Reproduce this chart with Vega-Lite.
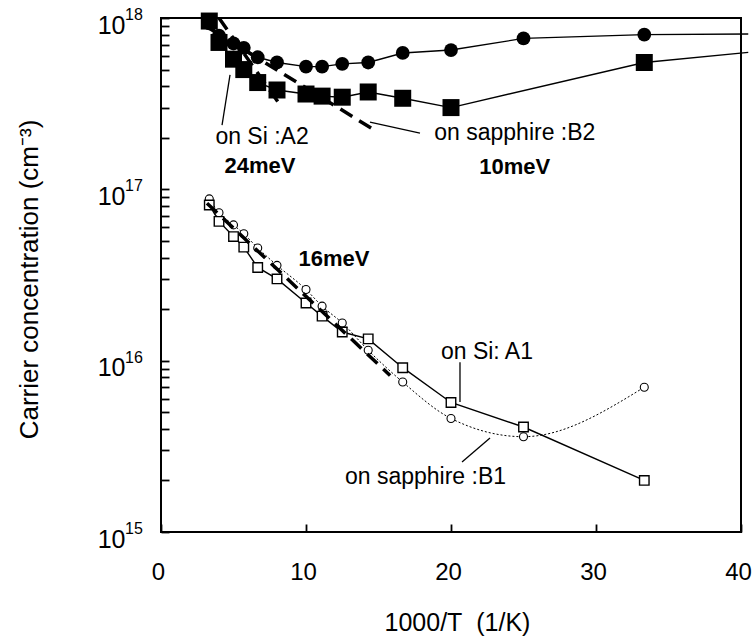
{
  "$schema": "https://vega.github.io/schema/vega-lite/v6.json",
  "width": 580,
  "height": 514,
  "autosize": {"type": "none"},
  "padding": {"left": 161, "top": 18, "right": 12, "bottom": 111},
  "background": "white",
  "config": {
    "font": "Liberation Sans",
    "view": {"stroke": "black", "strokeWidth": 2},
    "axis": {"grid": false, "domain": false, "ticks": true, "tickColor": "black", "tickSize": 8, "tickWidth": 1.8, "tickOpacity": 1, "labelColor": "black", "titleColor": "black", "titleFontWeight": "normal", "zindex": 1}
  },
  "datasets": {
    "pts": [
      {"s": "A2", "x": 3.33, "y": 9.6e17, "m": 1},
      {"s": "A2", "x": 4.0, "y": 7.2e17, "m": 1},
      {"s": "A2", "x": 5.0, "y": 5.75e17, "m": 1},
      {"s": "A2", "x": 5.71, "y": 5.0e17, "m": 1},
      {"s": "A2", "x": 6.67, "y": 4.2e17, "m": 1},
      {"s": "A2", "x": 8.0, "y": 3.8e17, "m": 1},
      {"s": "A2", "x": 10.0, "y": 3.6e17, "m": 1},
      {"s": "A2", "x": 11.11, "y": 3.5e17, "m": 1},
      {"s": "A2", "x": 12.5, "y": 3.45e17, "m": 1},
      {"s": "A2", "x": 14.29, "y": 3.7e17, "m": 1},
      {"s": "A2", "x": 16.67, "y": 3.4e17, "m": 1},
      {"s": "A2", "x": 20.0, "y": 3.0e17, "m": 1},
      {"s": "A2", "x": 33.33, "y": 5.5e17, "m": 1},
      {"s": "A2", "x": 40.5, "y": 6.3e17, "m": 0},
      {"s": "B2", "x": 3.33, "y": 9.3e17, "m": 1},
      {"s": "B2", "x": 4.0, "y": 7.9e17, "m": 1},
      {"s": "B2", "x": 5.0, "y": 7.1e17, "m": 1},
      {"s": "B2", "x": 5.71, "y": 6.7e17, "m": 1},
      {"s": "B2", "x": 6.67, "y": 5.9e17, "m": 1},
      {"s": "B2", "x": 8.0, "y": 5.5e17, "m": 1},
      {"s": "B2", "x": 10.0, "y": 5.2e17, "m": 1},
      {"s": "B2", "x": 11.11, "y": 5.2e17, "m": 1},
      {"s": "B2", "x": 12.5, "y": 5.4e17, "m": 1},
      {"s": "B2", "x": 14.29, "y": 5.5e17, "m": 1},
      {"s": "B2", "x": 16.67, "y": 6.25e17, "m": 1},
      {"s": "B2", "x": 20.0, "y": 6.5e17, "m": 1},
      {"s": "B2", "x": 25.0, "y": 7.6e17, "m": 1},
      {"s": "B2", "x": 33.33, "y": 8.0e17, "m": 1},
      {"s": "B2", "x": 40.5, "y": 8.07e17, "m": 0},
      {"s": "A1", "x": 3.33, "y": 8.1e16, "m": 1},
      {"s": "A1", "x": 4.0, "y": 6.5e16, "m": 1},
      {"s": "A1", "x": 5.0, "y": 5.3e16, "m": 1},
      {"s": "A1", "x": 5.71, "y": 4.6e16, "m": 1},
      {"s": "A1", "x": 6.67, "y": 3.5e16, "m": 1},
      {"s": "A1", "x": 8.0, "y": 3.0e16, "m": 1},
      {"s": "A1", "x": 10.0, "y": 2.17e16, "m": 1},
      {"s": "A1", "x": 11.11, "y": 1.82e16, "m": 1},
      {"s": "A1", "x": 12.5, "y": 1.47e16, "m": 1},
      {"s": "A1", "x": 14.29, "y": 1.34e16, "m": 1},
      {"s": "A1", "x": 16.67, "y": 9.1e15, "m": 1},
      {"s": "A1", "x": 20.0, "y": 5.7e15, "m": 1},
      {"s": "A1", "x": 25.0, "y": 4.1e15, "m": 1},
      {"s": "A1", "x": 33.33, "y": 2.0e15, "m": 1},
      {"s": "B1", "x": 3.33, "y": 8.8e16, "m": 1},
      {"s": "B1", "x": 4.0, "y": 7.3e16, "m": 1},
      {"s": "B1", "x": 5.0, "y": 6.2e16, "m": 1},
      {"s": "B1", "x": 5.71, "y": 5.5e16, "m": 1},
      {"s": "B1", "x": 6.67, "y": 4.55e16, "m": 1},
      {"s": "B1", "x": 8.0, "y": 3.6e16, "m": 1},
      {"s": "B1", "x": 10.0, "y": 2.6e16, "m": 1},
      {"s": "B1", "x": 11.11, "y": 2.08e16, "m": 1},
      {"s": "B1", "x": 12.5, "y": 1.66e16, "m": 1},
      {"s": "B1", "x": 14.29, "y": 1.15e16, "m": 1},
      {"s": "B1", "x": 16.67, "y": 7.5e15, "m": 1},
      {"s": "B1", "x": 20.0, "y": 4.6e15, "m": 1},
      {"s": "B1", "x": 25.0, "y": 3.6e15, "m": 1},
      {"s": "B1", "x": 33.33, "y": 7.0e15, "m": 1}
    ],
    "fits": [
      {"f": "16meV", "x": 3.17, "y": 8.3e16},
      {"f": "16meV", "x": 15.8, "y": 8.2e15},
      {"f": "10meV", "x": 3.33, "y": 8.7e17},
      {"f": "10meV", "x": 14.6, "y": 2.25e17},
      {"f": "24meV", "x": 4.0, "y": 1.0e18},
      {"f": "24meV", "x": 8.35, "y": 3.0e17}
    ],
    "leaders": [
      {"x": 4.76, "y": 4.65e17, "x2": 4.21, "y2": 2.37e17},
      {"x": 14.41, "y": 2.47e17, "x2": 17.86, "y2": 2.13e17},
      {"x": 20.62, "y": 9.8e15, "x2": 20.62, "y2": 5.74e15},
      {"x": 22.69, "y": 3.54e15, "x2": 20.76, "y2": 2.56e15}
    ],
    "notes": [
      {"t": "on Si :A2", "x": 6.97, "y": 2.02e17, "b": 0},
      {"t": "24meV", "x": 6.83, "y": 1.37e17, "b": 1},
      {"t": "on sapphire :B2", "x": 24.4, "y": 2.13e17, "b": 0},
      {"t": "10meV", "x": 24.4, "y": 1.35e17, "b": 1},
      {"t": "16meV", "x": 11.93, "y": 3.92e16, "b": 1},
      {"t": "on Si: A1", "x": 22.48, "y": 1.125e16, "b": 0},
      {"t": "on sapphire :B1", "x": 18.24, "y": 2.1e15, "b": 0}
    ],
    "exps": [
      {"e": "15", "x": 0, "y": 1e15},
      {"e": "16", "x": 0, "y": 1e16},
      {"e": "17", "x": 0, "y": 1e17},
      {"e": "18", "x": 0, "y": 1e18}
    ]
  },
  "encoding": {
    "x": {
      "field": "x", "type": "quantitative",
      "scale": {"domain": [0, 40], "nice": false, "zero": false},
      "axis": {
        "values": [0, 10, 20, 30, 40],
        "offset": -8,
        "labelFontSize": 24, "labelPadding": 28, "labelFlush": false, "labelOffset": -3,
        "title": "1000/T\u00a0\u00a0(1/K)", "titleFontSize": 25,
        "titleX": 296, "titleY": 98, "titleBaseline": "middle", "titleAlign": "center"
      }
    },
    "y": {
      "field": "y", "type": "quantitative",
      "scale": {"type": "log", "domain": [1e15, 1e18], "nice": false},
      "axis": {
        "values": [1e15, 2e15, 3e15, 4e15, 5e15, 6e15, 7e15, 8e15, 9e15, 1e16, 2e16, 3e16, 4e16, 5e16, 6e16, 7e16, 8e16, 9e16, 1e17, 2e17, 3e17, 4e17, 5e17, 6e17, 7e17, 8e17, 9e17, 1e18],
        "labelExpr": "abs(log(datum.value)/LN10 - round(log(datum.value)/LN10)) < 0.001 ? '10' : ''",
        "offset": -8,
        "labelFontSize": 25, "labelPadding": 36, "labelOffset": 7, "labelFlush": false, "labelOverlap": false,
        "title": "Carrier concentration (cm⁻³)", "titleFontSize": 26,
        "titleX": -140, "titleY": 261, "titleBaseline": "middle", "titleAlign": "center", "titleAngle": 270
      }
    }
  },
  "layer": [
    {
      "data": {"name": "pts"},
      "transform": [{"filter": "datum.s !== 'B1'"}],
      "mark": {"type": "line", "color": "black", "strokeWidth": 1.4},
      "encoding": {"detail": {"field": "s"}}
    },
    {
      "data": {"name": "pts"},
      "transform": [{"filter": "datum.s === 'B1'"}],
      "mark": {"type": "line", "color": "black", "strokeWidth": 1, "strokeDash": [2, 2], "interpolate": "monotone"},
      "encoding": {}
    },
    {
      "data": {"name": "pts"},
      "transform": [{"filter": "datum.s === 'B2' && datum.m === 1"}],
      "mark": {"type": "point", "shape": "circle", "filled": true, "color": "black", "size": 190, "opacity": 1},
      "encoding": {}
    },
    {
      "data": {"name": "pts"},
      "transform": [{"filter": "datum.s === 'A2' && datum.m === 1"}],
      "mark": {"type": "point", "shape": "square", "filled": true, "color": "black", "size": 289, "opacity": 1},
      "encoding": {}
    },
    {
      "data": {"name": "pts"},
      "transform": [{"filter": "datum.s === 'B1'"}],
      "mark": {"type": "point", "shape": "circle", "fill": "white", "stroke": "black", "strokeWidth": 1.1, "size": 64, "opacity": 1, "fillOpacity": 1},
      "encoding": {}
    },
    {
      "data": {"name": "pts"},
      "transform": [{"filter": "datum.s === 'A1'"}],
      "mark": {"type": "point", "shape": "square", "fill": "white", "stroke": "black", "strokeWidth": 1.4, "size": 90, "opacity": 1, "fillOpacity": 1},
      "encoding": {}
    },
    {
      "data": {"name": "fits"},
      "mark": {"type": "line", "color": "black", "strokeWidth": 3.5, "strokeDash": [14, 8]},
      "encoding": {"detail": {"field": "f"}}
    },
    {
      "data": {"name": "leaders"},
      "mark": {"type": "rule", "color": "black", "strokeWidth": 1.3},
      "encoding": {"x2": {"field": "x2"}, "y2": {"field": "y2"}}
    },
    {
      "data": {"name": "notes"},
      "transform": [{"filter": "datum.b === 0"}],
      "mark": {"type": "text", "fontSize": 23, "align": "center", "baseline": "middle", "color": "black"},
      "encoding": {"text": {"field": "t"}}
    },
    {
      "data": {"name": "notes"},
      "transform": [{"filter": "datum.b === 1"}],
      "mark": {"type": "text", "fontSize": 22, "fontWeight": "bold", "align": "center", "baseline": "middle", "color": "black"},
      "encoding": {"text": {"field": "t"}}
    },
    {
      "data": {"name": "exps"},
      "mark": {"type": "text", "fontSize": 16, "align": "left", "baseline": "middle", "dx": -36, "dy": -3, "color": "black"},
      "encoding": {"text": {"field": "e"}}
    }
  ]
}
